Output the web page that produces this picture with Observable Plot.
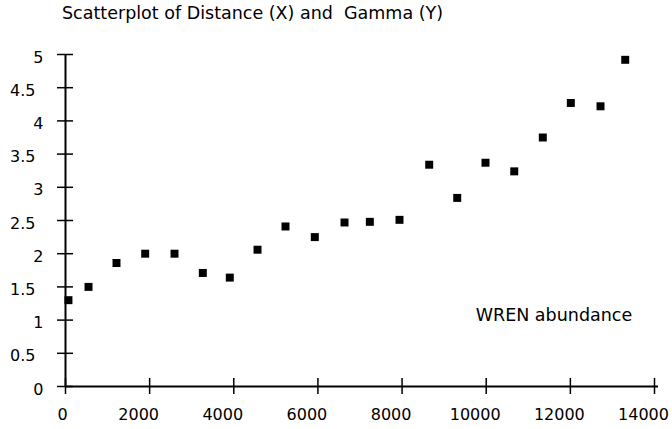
<!DOCTYPE html>
<html>
<head>
<meta charset="utf-8">
<script src="https://cdn.jsdelivr.net/npm/d3@7"></script>
<script src="https://cdn.jsdelivr.net/npm/@observablehq/plot@0.6"></script>
<style>
  body { margin: 0; background: #fff; font-family: "DejaVu Sans", sans-serif; }
  #title { height: 30px; box-sizing: border-box; padding-left: 62px; padding-top: 3px; font-size: 17.5px; white-space: pre; color: #000; }
  #chart svg { display: block; }
</style>
</head>
<body>
<div id="title">Scatterplot of Distance (X) and  Gamma (Y)</div>
<div id="chart"></div>
<script>
const distance = [70, 547, 1212, 1894, 2591, 3264, 3905, 4564, 5229, 5926, 6632, 7234, 7939, 8645, 9311, 9983, 10666, 11345, 12011, 12717, 13304];
const gamma = [1.30, 1.50, 1.86, 2.00, 2.00, 1.71, 1.64, 2.06, 2.41, 2.25, 2.47, 2.48, 2.51, 3.34, 2.84, 3.37, 3.24, 3.75, 4.27, 4.22, 4.92];
const xTicks = [0, 2000, 4000, 6000, 8000, 10000, 12000, 14000];
const yTicks = [0, 0.5, 1, 1.5, 2, 2.5, 3, 3.5, 4, 4.5, 5];
const yIntTicks = [0, 1, 2, 3, 4, 5];
const yHalfTicks = [0.5, 1.5, 2.5, 3.5, 4.5];
const annotation = [{x: 9750, y: 1.07, label: "WREN abundance"}];

const points = distance.map((d, i) => ({distance: d, gamma: gamma[i]}));

const chart = Plot.plot({
  width: 672,
  height: 399,
  marginLeft: 65,
  marginRight: 18,
  marginTop: 24,
  marginBottom: 43,
  style: {fontFamily: "DejaVu Sans, sans-serif", fontSize: "16px", color: "#000", background: "#fff"},
  x: {domain: [0, 14000]},
  y: {domain: [0, 5]},
  marks: [
    Plot.ruleX([0], {stroke: "#000", strokeWidth: 2}),
    Plot.ruleY([0], {stroke: "#000", strokeWidth: 2, insetRight: -4}),
    Plot.axisY({ticks: yTicks, tickSize: 16, dx: 8, fill: "none", label: null, stroke: "#000", strokeWidth: 1.5, strokeOpacity: 1}),
    Plot.axisY({ticks: yIntTicks, tickSize: 0, tickPadding: 22, dy: 3, label: null, tickFormat: d => String(d), fill: "#000"}),
    Plot.axisY({ticks: yHalfTicks, tickSize: 0, tickPadding: 30, dy: 3, label: null, tickFormat: d => String(d), fill: "#000"}),
    Plot.axisX({ticks: xTicks, tickSize: 16, dy: -8, fill: "none", label: null, stroke: "#000", strokeWidth: 1.5, strokeOpacity: 1}),
    Plot.axisX({ticks: xTicks.filter(d => d !== 0), tickSize: 0, tickPadding: 22, dx: -11, label: null, tickFormat: d => String(d), fill: "#000"}),
    Plot.axisX({ticks: [0], tickSize: 0, tickPadding: 22, dx: -3, label: null, tickFormat: d => String(d), fill: "#000"}),
    Plot.dot(points, {x: "distance", y: "gamma", symbol: "square", r: 4.5, fill: "#000", stroke: "none"}),
    Plot.text(annotation, {x: "x", y: "y", text: "label", textAnchor: "start", fontSize: 17.5, fill: "#000"})
  ]
});
document.getElementById("chart").appendChild(chart);
</script>
</body>
</html>
